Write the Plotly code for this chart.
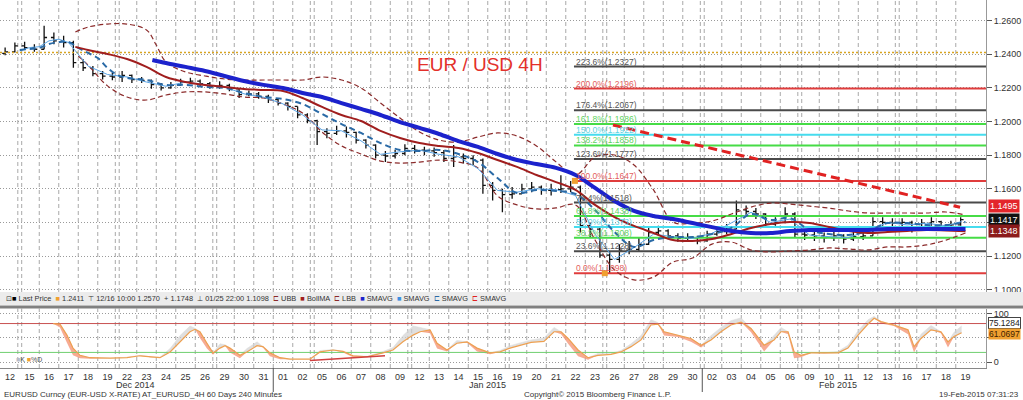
import numpy as np
import plotly.graph_objects as go

# ---------------- calendar / axis labels ----------------
day_labels = ["12", "15", "16", "17", "18", "19", "22", "23", "24", "25", "26", "29", "30", "31",
              "01", "02", "05", "06", "07", "08", "09", "12", "13", "14", "15", "16", "19", "20",
              "21", "22", "23", "26", "27", "28", "29", "30", "02", "03", "04", "05", "06", "09",
              "10", "11", "12", "13", "16", "17", "18", "19"]
month_labels = ["Dec 2014", "Jan 2015", "Feb 2015"]
month_label_pos = [6.46, 24.5, 42.46]
month_break_pos = [13.5, 35.5]
weekend_break_pos = [0.5, 5.5, 10.5, 15.5, 20.5, 25.5, 30.5, 35.5, 40.5, 45.5]
price_ticks = [1.10, 1.12, 1.14, 1.16, 1.18, 1.20, 1.22, 1.24, 1.26]
price_tick_text = ["1.1000", "1.1200", "", "1.1600", "1.1800", "1.2000", "1.2200", "1.2400", "1.2600"]
osc_ticks = [0, 50, 100]
osc_tick_text = ["0", "", "100"]

# ---------------- EURUSD bars (half-day) ----------------
open_px = [1.2405, 1.2415, 1.2450, 1.2440, 1.2430, 1.2500, 1.2480, 1.2470, 1.2350, 1.2320,
           1.2285, 1.2270, 1.2265, 1.2275, 1.2250, 1.2245, 1.2220, 1.2200, 1.2215, 1.2235,
           1.2240, 1.2225, 1.2210, 1.2215, 1.2195, 1.2160, 1.2165, 1.2150, 1.2130, 1.2110,
           1.2090, 1.2040, 1.2005, 1.1940, 1.1930, 1.1945, 1.1935, 1.1890, 1.1860, 1.1800,
           1.1795, 1.1810, 1.1840, 1.1830, 1.1825, 1.1815, 1.1780, 1.1790, 1.1780, 1.1770,
           1.1620, 1.1590, 1.1565, 1.1570, 1.1600, 1.1610, 1.1590, 1.1595, 1.1600, 1.1610,
           1.1380, 1.1360, 1.1205, 1.1180, 1.1235, 1.1240, 1.1270, 1.1340, 1.1350, 1.1320,
           1.1305, 1.1310, 1.1290, 1.1330, 1.1345, 1.1360, 1.1475, 1.1465, 1.1450, 1.1390,
           1.1400, 1.1450, 1.1330, 1.1325, 1.1320, 1.1310, 1.1320, 1.1300, 1.1315, 1.1320,
           1.1405, 1.1400, 1.1395, 1.1400, 1.1360, 1.1395, 1.1405, 1.1375, 1.1385]
close_px = [1.2415, 1.2450, 1.2440, 1.2430, 1.2500, 1.2480, 1.2470, 1.2350, 1.2320, 1.2285,
            1.2270, 1.2265, 1.2275, 1.2250, 1.2245, 1.2220, 1.2200, 1.2215, 1.2235, 1.2240,
            1.2225, 1.2210, 1.2215, 1.2195, 1.2160, 1.2165, 1.2150, 1.2130, 1.2110, 1.2090,
            1.2040, 1.2005, 1.1940, 1.1930, 1.1945, 1.1935, 1.1890, 1.1860, 1.1800, 1.1795,
            1.1810, 1.1840, 1.1830, 1.1825, 1.1815, 1.1780, 1.1790, 1.1780, 1.1770, 1.1620,
            1.1590, 1.1565, 1.1570, 1.1600, 1.1610, 1.1590, 1.1595, 1.1600, 1.1610, 1.1380,
            1.1360, 1.1205, 1.1180, 1.1235, 1.1240, 1.1270, 1.1340, 1.1350, 1.1320, 1.1305,
            1.1310, 1.1290, 1.1330, 1.1345, 1.1360, 1.1475, 1.1465, 1.1450, 1.1390, 1.1400,
            1.1450, 1.1330, 1.1325, 1.1320, 1.1310, 1.1320, 1.1300, 1.1315, 1.1320, 1.1405,
            1.1400, 1.1395, 1.1400, 1.1360, 1.1395, 1.1405, 1.1375, 1.1385, 1.1417]
high_px = [1.2440, 1.2470, 1.2475, 1.2460, 1.2570, 1.2530, 1.2510, 1.2480, 1.2370, 1.2330,
           1.2300, 1.2290, 1.2300, 1.2280, 1.2265, 1.2250, 1.2230, 1.2235, 1.2255, 1.2260,
           1.2250, 1.2235, 1.2240, 1.2225, 1.2200, 1.2185, 1.2175, 1.2160, 1.2135, 1.2115,
           1.2090, 1.2050, 1.2010, 1.1960, 1.1975, 1.1970, 1.1940, 1.1895, 1.1865, 1.1825,
           1.1830, 1.1865, 1.1860, 1.1850, 1.1845, 1.1830, 1.1860, 1.1810, 1.1800, 1.1780,
           1.1640, 1.1600, 1.1610, 1.1630, 1.1640, 1.1620, 1.1630, 1.1680, 1.1647, 1.1620,
           1.1400, 1.1370, 1.1230, 1.1270, 1.1290, 1.1310, 1.1370, 1.1380, 1.1360, 1.1335,
           1.1335, 1.1320, 1.1350, 1.1370, 1.1390, 1.1530, 1.1500, 1.1485, 1.1455, 1.1430,
           1.1490, 1.1460, 1.1355, 1.1345, 1.1340, 1.1350, 1.1330, 1.1345, 1.1350, 1.1430,
           1.1430, 1.1425, 1.1425, 1.1410, 1.1420, 1.1430, 1.1410, 1.1410, 1.1430]
low_px = [1.2395, 1.2410, 1.2425, 1.2415, 1.2430, 1.2460, 1.2440, 1.2320, 1.2300, 1.2270,
          1.2250, 1.2245, 1.2235, 1.2230, 1.2230, 1.2195, 1.2185, 1.2195, 1.2215, 1.2225,
          1.2210, 1.2195, 1.2195, 1.2180, 1.2140, 1.2150, 1.2135, 1.2110, 1.2095, 1.2065,
          1.2020, 1.1990, 1.1860, 1.1900, 1.1920, 1.1905, 1.1870, 1.1840, 1.1780, 1.1760,
          1.1780, 1.1800, 1.1810, 1.1800, 1.1790, 1.1760, 1.1730, 1.1750, 1.1740, 1.1570,
          1.1530, 1.1460, 1.1540, 1.1570, 1.1580, 1.1565, 1.1560, 1.1575, 1.1580, 1.1340,
          1.1310, 1.1190, 1.1098, 1.1160, 1.1210, 1.1230, 1.1265, 1.1320, 1.1300, 1.1285,
          1.1285, 1.1270, 1.1285, 1.1320, 1.1330, 1.1360, 1.1440, 1.1420, 1.1370, 1.1380,
          1.1395, 1.1310, 1.1295, 1.1290, 1.1280, 1.1290, 1.1275, 1.1290, 1.1295, 1.1320,
          1.1380, 1.1370, 1.1375, 1.1340, 1.1355, 1.1380, 1.1350, 1.1360, 1.1380]

# ---------------- indicators (read at day positions) ----------------
sma_thick_x = [7.3, 8, 9, 10, 11, 12, 13, 14, 15, 16, 17, 18, 19, 20, 21, 22, 23, 24, 25, 26, 27,
               28, 29, 30, 31, 32, 33, 34, 35, 36, 37, 38, 39, 40, 41, 42, 43, 44, 45, 46, 47, 48, 49]
sma_thick_y = [1.2366, 1.2348, 1.2325, 1.2301, 1.2271, 1.2241, 1.2218, 1.2200, 1.2170, 1.2146,
               1.2110, 1.2075, 1.2039, 1.1997, 1.1962, 1.1926, 1.1884, 1.1849, 1.1807, 1.1771,
               1.1747, 1.1724, 1.1682, 1.1605, 1.1527, 1.1468, 1.1438, 1.1420, 1.1396, 1.1372,
               1.1349, 1.1337, 1.1337, 1.1349, 1.1355, 1.1355, 1.1355, 1.1355, 1.1361, 1.1361,
               1.1361, 1.1361, 1.1361]

bollma_x = [3.35, 4, 5, 6, 7, 8, 9, 10, 11, 12, 13, 14, 15, 16, 17, 18, 19, 20, 21, 22, 23, 24,
            25, 26, 27, 28, 29, 30, 31, 32, 33, 34, 35, 36, 37, 38, 39, 40, 41, 42, 43, 44, 45,
            46, 47, 48, 49]
bollma_y = [1.2444, 1.2426, 1.2402, 1.2372, 1.2325, 1.2265, 1.2235, 1.2217, 1.2206, 1.2194,
            1.2188, 1.2182, 1.2140, 1.2087, 1.2039, 1.2003, 1.1944, 1.1902, 1.1872, 1.1855,
            1.1843, 1.1813, 1.1771, 1.1730, 1.1682, 1.1640, 1.1593, 1.1504, 1.1432, 1.1379,
            1.1337, 1.1295, 1.1290, 1.1301, 1.1331, 1.1367, 1.1390, 1.1402, 1.1396, 1.1373,
            1.1349, 1.1337, 1.1343, 1.1349, 1.1355, 1.1352, 1.1348]

ubb_x = [3.35, 4, 5, 6, 7, 7.5, 8, 9, 10, 11, 12, 13, 14, 15, 16, 17, 18, 19, 20, 21, 22, 23, 24,
         25, 26, 27, 28, 29, 30, 31, 32, 33, 34, 35, 36, 37, 38, 39, 40, 41, 42, 43, 44, 45, 46,
         47, 48, 49]
ubb_y = [1.2533, 1.2562, 1.2580, 1.2580, 1.2545, 1.2455, 1.2354, 1.2295, 1.2271, 1.2253, 1.2247,
         1.2247, 1.2247, 1.2247, 1.2265, 1.2247, 1.2200, 1.2110, 1.2021, 1.1938, 1.1890, 1.1878,
         1.1908, 1.1932, 1.1914, 1.1855, 1.1760, 1.1682, 1.1789, 1.1801, 1.1741, 1.1593, 1.1402,
         1.1396, 1.1408, 1.1450, 1.1491, 1.1515, 1.1509, 1.1497, 1.1485, 1.1468, 1.1456, 1.1456,
         1.1456, 1.1456, 1.1462, 1.1444]

lbb_x = [3.5, 4, 5, 6, 7, 8, 9, 10, 11, 12, 13, 14, 15, 16, 17, 18, 19, 20, 21, 22, 23, 24, 25,
         26, 27, 28, 29, 30, 31, 32, 33, 34, 35, 36, 37, 38, 39, 40, 41, 42, 43, 44, 45, 46, 47,
         48, 49]
lbb_y = [1.2390, 1.2336, 1.2212, 1.2146, 1.2128, 1.2158, 1.2176, 1.2176, 1.2164, 1.2146, 1.2140,
         1.2104, 1.2051, 1.1938, 1.1855, 1.1807, 1.1765, 1.1753, 1.1759, 1.1771, 1.1759, 1.1724,
         1.1558, 1.1504, 1.1480, 1.1486, 1.1504, 1.1295, 1.1117, 1.1058, 1.1075, 1.1164, 1.1188,
         1.1271, 1.1283, 1.1236, 1.1224, 1.1230, 1.1236, 1.1248, 1.1242, 1.1236, 1.1254, 1.1254,
         1.1266, 1.1295, 1.1337]

sma_dash_x = [0.5, 1, 1.5, 2, 2.5, 3, 3.5, 4, 4.5, 5, 5.5, 6, 7, 8, 9, 10, 11, 12, 13, 14, 15, 16,
              17, 18, 19, 20, 21, 22, 23, 24, 25, 26, 27, 28, 29, 30, 31, 32, 33, 34, 35, 36, 37,
              38, 39, 40, 41, 42, 43, 44, 45, 46, 47, 48, 49]
sma_dash_y = [1.2426, 1.2432, 1.2438, 1.2461, 1.2473, 1.2473, 1.2438, 1.2408, 1.2378, 1.2319,
              1.2277, 1.2259, 1.2247, 1.2218, 1.2218, 1.2206, 1.2200, 1.2170, 1.2146, 1.2134,
              1.2104, 1.2045, 1.1985, 1.1932, 1.1872, 1.1831, 1.1825, 1.1831, 1.1807, 1.1759,
              1.1664, 1.1575, 1.1593, 1.1587, 1.1569, 1.1474, 1.1343, 1.1254, 1.1295, 1.1313,
              1.1313, 1.1331, 1.1367, 1.1450, 1.1414, 1.1426, 1.1355, 1.1331, 1.1325, 1.1349,
              1.1396, 1.1396, 1.1384, 1.1384, 1.1402]

sma_light_x = [0.5, 1, 1.5, 2, 2.5, 3, 3.5, 4, 5, 6, 7, 8, 9, 10, 11, 12, 13, 14, 15, 16, 17, 18,
               19, 20, 21, 22, 23, 24, 25, 26, 27, 28, 29, 30, 31, 32, 33, 34, 35, 36, 37, 38, 39,
               40, 41, 42, 43, 44, 45, 46, 47, 48, 48.8]
sma_light_y = [1.2420, 1.2440, 1.2445, 1.2480, 1.2490, 1.2470, 1.2400, 1.2330, 1.2280, 1.2265,
               1.2235, 1.2210, 1.2235, 1.2220, 1.2205, 1.2165, 1.2145, 1.2105, 1.2040, 1.1950,
               1.1945, 1.1885, 1.1805, 1.1820, 1.1830, 1.1805, 1.1790, 1.1720, 1.1590, 1.1580,
               1.1600, 1.1595, 1.1560, 1.1330, 1.1180, 1.1250, 1.1330, 1.1315, 1.1305, 1.1335,
               1.1400, 1.1460, 1.1400, 1.1420, 1.1325, 1.1315, 1.1310, 1.1350, 1.1400, 1.1385,
               1.1395, 1.1380, 1.1405]

last_price_ref = 1.2411
trend_x = [30.92, 48.72]
trend_y = [1.1979, 1.1490]
extreme_x = [28.97, 30.5]
extreme_y = [1.1647, 1.1098]

fib_start = 28.92
fib_pct = ["223.6%", "200.0%", "176.4%", "161.8%", "150.0%", "138.2%", "123.6%", "100.0%",
           "76.4%", "61.8%", "50.0%", "38.2%", "23.6%", "0.0%"]
fib_val = [1.2327, 1.2196, 1.2067, 1.1986, 1.1922, 1.1858, 1.1777, 1.1647, 1.1518, 1.1438,
           1.1373, 1.1308, 1.1228, 1.1098]
fib_kind = ["g", "r", "g", "n", "c", "n", "g", "r", "g", "n", "c", "n", "g", "r"]

right_tags = [("1.1495", 1.1495, "#e3262b"), ("1.1417", 1.1417, "#111111"), ("1.1348", 1.1348, "#8c1b1b")]

# ---------------- stochastic oscillator ----------------
osc_x = [2.21, 2.56, 2.92, 3.23, 3.59, 4.10, 5.13, 6.00, 6.67, 7.18, 7.69, 8.21, 8.72, 9.23, 9.49,
         9.74, 10.10, 10.41, 10.77, 11.03, 11.28, 11.79, 12.15, 12.67, 12.97, 13.33, 13.85, 14.36,
         15.38, 15.90, 16.56, 17.08, 17.59, 18.31, 19.13, 19.64, 20.15, 20.67, 21.03, 21.54, 21.90,
         22.41, 22.92, 23.44, 23.95, 24.62, 25.13, 25.64, 26.72, 27.38, 27.90, 28.26, 28.62, 29.13,
         29.64, 30.15, 30.82, 31.33, 31.85, 32.36, 32.87, 33.23, 33.54, 34.26, 34.92, 35.44, 35.95,
         36.46, 36.97, 37.49, 38.00, 38.67, 39.18, 39.54, 39.90, 40.21, 40.56, 41.08, 41.74, 42.46,
         42.97, 43.49, 44.00, 44.31, 44.67, 45.33, 46.05, 46.36, 46.72, 47.23, 47.74, 48.10, 48.41,
         48.80]
stoch_d = [80, 79, 56, 29, 14, 9, 8, 9, 13, 11, 9, 21, 42, 63, 68, 63, 39, 19, 29, 34,
           29, 14, 21, 34, 32, 19, 9, 6, 6, 21, 25, 22, 13, 11, 19, 25, 42, 56, 63, 67,
           39, 25, 39, 42, 29, 19, 21, 29, 41, 43, 63, 63, 49, 25, 9, 14, 16, 21, 32, 46,
           77, 79, 63, 56, 49, 35, 46, 63, 77, 83, 70, 35, 46, 63, 63, 21, 14, 19, 19, 19,
           29, 56, 79, 91, 84, 77, 67, 32, 49, 67, 63, 42, 53, 61.07]
stoch_k = [80, 72, 40, 14, 8, 7, 8, 10, 14, 10, 10, 28, 55, 75, 70, 50, 28, 15, 38, 36,
           20, 8, 28, 42, 30, 12, 6, 6, 6, 24, 26, 20, 10, 12, 22, 30, 55, 75, 72, 60,
           28, 22, 45, 40, 22, 16, 24, 34, 46, 50, 72, 58, 38, 12, 5, 18, 18, 24, 38, 55,
           88, 82, 55, 52, 42, 30, 55, 72, 86, 92, 62, 22, 55, 72, 58, 8, 10, 20, 18, 22,
           35, 65, 88, 95, 80, 75, 58, 20, 58, 76, 60, 30, 62, 75.13]
osc_upper, osc_lower = 80, 20
osc_trend_x = [15.38, 19.23]
osc_trend_y = [3, 13]

# ---------------- geometry ----------------
X_MIN, X_MAX = -0.513, 50.05
Y_MIN, Y_MAX = 1.0986, 1.2723
O_MIN, O_MAX = -12.4, 111.3
PW, PH = 986.0, 368.0          # plot area in pixels
FONT = "Liberation Sans"


def px_x(px):
    return px / PW


def px_y(py):
    return (PH - py) / PH


fib_line_col = {"g": "#4a4a4a", "r": "#e03c3c", "n": "#46dc46", "c": "#46dcee"}
fib_text_col = {"g": "#555555", "r": "#e36060", "n": "#5fd35f", "c": "#5fd2e2"}

fig = go.Figure()

# fib levels
for pct, val, kind in zip(fib_pct, fib_val, fib_kind):
    fig.add_trace(go.Scatter(x=[fib_start, X_MAX], y=[val, val], mode="lines",
                             line=dict(color=fib_line_col[kind], width=2), hoverinfo="skip"))

fig.add_trace(go.Scatter(x=[X_MIN, X_MAX], y=[last_price_ref, last_price_ref], mode="lines",
                         line=dict(color="#d9a520", width=1.5, dash="2px,2px"), hoverinfo="skip"))

fig.add_trace(go.Scatter(x=ubb_x, y=ubb_y, mode="lines", line_shape="spline",
                         line=dict(color="#8b2a2a", width=1.2, dash="5px,3px"), hoverinfo="skip"))
fig.add_trace(go.Scatter(x=lbb_x, y=lbb_y, mode="lines", line_shape="spline",
                         line=dict(color="#8b2a2a", width=1.2, dash="5px,3px"), hoverinfo="skip"))
fig.add_trace(go.Scatter(x=sma_light_x, y=sma_light_y, mode="lines",
                         line=dict(color="#5aa5e6", width=1), hoverinfo="skip"))

fig.add_trace(go.Ohlc(x=[k * 0.5 - 0.25 for k in range(len(close_px))],
                      open=open_px, high=high_px, low=low_px, close=close_px,
                      increasing_line_color="#111111", decreasing_line_color="#111111",
                      line_width=1.3, tickwidth=0.3, hoverinfo="skip"))

fig.add_trace(go.Scatter(x=sma_dash_x, y=sma_dash_y, mode="lines", line_shape="spline",
                         line=dict(color="#2a6aa6", width=2, dash="6px,4px"), hoverinfo="skip"))
fig.add_trace(go.Scatter(x=bollma_x, y=bollma_y, mode="lines", line_shape="spline",
                         line=dict(color="#a01e1e", width=2), hoverinfo="skip"))
fig.add_trace(go.Scatter(x=sma_thick_x, y=sma_thick_y, mode="lines", line_shape="spline",
                         line=dict(color="#1c22cc", width=4), hoverinfo="skip"))
fig.add_trace(go.Scatter(x=trend_x, y=trend_y, mode="lines",
                         line=dict(color="#e02222", width=3, dash="9px,5px"), hoverinfo="skip"))
fig.add_trace(go.Scatter(x=extreme_x, y=extreme_y, mode="markers",
                         marker=dict(color="#f0a030", size=6, symbol="square"), hoverinfo="skip"))

# oscillator
K = np.array(stoch_k, dtype=float)
D = np.array(stoch_d, dtype=float)
osc_kw = dict(xaxis="x2", yaxis="y2", mode="lines", hoverinfo="skip")
fig.add_trace(go.Scatter(x=osc_x, y=D, line=dict(width=0), **osc_kw))
fig.add_trace(go.Scatter(x=osc_x, y=np.maximum(K, D), fill="tonexty", fillcolor="rgba(210,210,210,0.7)",
                         line=dict(width=0.5, color="#dcdcdc"), **osc_kw))
fig.add_trace(go.Scatter(x=osc_x, y=D, line=dict(width=0), **osc_kw))
fig.add_trace(go.Scatter(x=osc_x, y=np.minimum(K, D), fill="tonexty", fillcolor="rgba(245,150,120,0.8)",
                         line=dict(width=0), **osc_kw))
fig.add_trace(go.Scatter(x=[X_MIN, X_MAX], y=[osc_upper, osc_upper], line=dict(color="#c85050", width=1), **osc_kw))
fig.add_trace(go.Scatter(x=[X_MIN, X_MAX], y=[osc_lower, osc_lower], line=dict(color="#6fcf6f", width=1), **osc_kw))
fig.add_trace(go.Scatter(x=osc_x, y=D, line=dict(color="#eea050", width=1.2), **osc_kw))
fig.add_trace(go.Scatter(x=osc_trend_x, y=osc_trend_y, line=dict(color="#d04040", width=1.5), **osc_kw))

# ---------------- shapes ----------------
shapes = []
breaks = []
for i in range(len(day_labels) - 1):
    b = i + 0.5
    if b in weekend_break_pos:
        breaks += [b - 0.1, b + 0.1]
    else:
        breaks.append(b)
for ref in ["y domain", "y2 domain"]:
    for b in breaks:
        shapes.append(dict(type="line", xref="x", yref=ref, x0=b, x1=b, y0=0, y1=1,
                           line=dict(color="#a8a8a8", width=1, dash="4px,3px"), layer="below"))
# legend strip and separator
shapes.append(dict(type="rect", xref="paper", yref="paper", x0=0, x1=1023 / PW,
                   y0=px_y(305), y1=px_y(292), fillcolor="#ececec", line=dict(width=0), layer="above"))
shapes.append(dict(type="rect", xref="paper", yref="paper", x0=0, x1=1023 / PW,
                   y0=px_y(308.5), y1=px_y(305.5), fillcolor="#808080", line=dict(width=0), layer="above"))
for b in month_break_pos:
    shapes.append(dict(type="line", xref="x", yref="paper", x0=b, x1=b, y0=px_y(368), y1=px_y(392),
                       line=dict(color="#555555", width=1)))

# ---------------- annotations ----------------
ann = []
ann.append(dict(text="EUR / USD 4H", x=px_x(480), y=px_y(52), xref="paper", yref="paper",
                showarrow=False, font=dict(family=FONT, size=19, color="#e3302a")))
for pct, val, kind in zip(fib_pct, fib_val, fib_kind):
    ann.append(dict(text=f"{pct}({val:.4f})", x=fib_start, y=val, xref="x", yref="y",
                    xanchor="left", yanchor="middle", yshift=5, showarrow=False,
                    font=dict(family=FONT, size=8.5, color=fib_text_col[kind])))
for txt, val, col in right_tags:
    ann.append(dict(text=txt, x=1.002, y=val, xref="paper", yref="y", xanchor="left",
                    yanchor="middle", showarrow=False, bgcolor=col, borderpad=1,
                    font=dict(family=FONT, size=9, color="white")))
ann.append(dict(text="75.1284", x=1.002, y=stoch_k[-1], yshift=3, xref="paper", yref="y2",
                xanchor="left", yanchor="middle", showarrow=False, bgcolor="white",
                bordercolor="#444", borderwidth=1, borderpad=0,
                font=dict(family=FONT, size=8.5, color="#222")))
ann.append(dict(text="61.0697", x=1.002, y=stoch_d[-1], yshift=-1, xref="paper", yref="y2",
                xanchor="left", yanchor="middle", showarrow=False, bgcolor="#f0a030", borderpad=0,
                font=dict(family=FONT, size=8.5, color="#402000")))

legend_txt = ('⊡<span style="color:#000">■</span> Last Price  <span style="color:#f0a030">■</span> 1.2411  '
              '⊤ 12/16 10:00 1.2570  + 1.1748  ⊥ 01/25 22:00 1.1098  '
              '<span style="color:#8b2a2a">⊏</span> UBB  <span style="color:#a01e1e">■</span> BollMA  '
              '<span style="color:#8b2a2a">⊏</span> LBB  <span style="color:#1c22cc">■</span> SMAVG  '
              '<span style="color:#3d8fe0">■</span> SMAVG  <span style="color:#2a6aa6">⊏</span> SMAVG  '
              '<span style="color:#e02222">⊏</span> SMAVG')
ann.append(dict(text=legend_txt, x=px_x(4), y=px_y(298.5), xref="paper", yref="paper",
                xanchor="left", yanchor="middle", showarrow=False,
                font=dict(family=FONT, size=7.4, color="#333")))
ann.append(dict(text='<span style="color:#b8bcc8">■</span>K <span style="color:#f0a030">■</span>%D',
                x=px_x(14), y=px_y(359), xref="paper", yref="paper", xanchor="left",
                yanchor="middle", showarrow=False, font=dict(family=FONT, size=7, color="#555")))
for lab, pos in zip(month_labels, month_label_pos):
    ann.append(dict(text=lab, x=pos, y=px_y(385), xref="x", yref="paper", showarrow=False,
                    yanchor="middle", font=dict(family=FONT, size=9, color="#333")))
ann.append(dict(text="EURUSD Curncy (EUR-USD X-RATE) AT_EURUSD_4H 60 Days 240 Minutes",
                x=px_x(2), y=px_y(394.5), xref="paper", yref="paper", xanchor="left",
                yanchor="middle", showarrow=False, font=dict(family=FONT, size=8, color="#333")))
ann.append(dict(text="Copyright© 2015 Bloomberg Finance L.P.", x=px_x(597), y=px_y(394.5),
                xref="paper", yref="paper", yanchor="middle", showarrow=False,
                font=dict(family=FONT, size=8, color="#333")))
ann.append(dict(text="19-Feb-2015 07:31:23", x=px_x(1021), y=px_y(394.5), xref="paper",
                yref="paper", xanchor="right", yanchor="middle", showarrow=False,
                font=dict(family=FONT, size=8, color="#333")))

fig.update_layout(
    width=1023, height=400, margin=dict(l=0, r=37, t=0, b=32),
    paper_bgcolor="white", plot_bgcolor="white", showlegend=False,
    font=dict(family=FONT, size=9, color="#333"),
    xaxis=dict(domain=[0, 1], range=[X_MIN, X_MAX], anchor="y", showticklabels=False,
               showgrid=False, zeroline=False, rangeslider=dict(visible=False), fixedrange=True),
    xaxis2=dict(domain=[0, 1], range=[X_MIN, X_MAX], anchor="y2", matches="x",
                tickmode="array", tickvals=list(range(len(day_labels))), ticktext=day_labels,
                ticks="", showgrid=False, zeroline=False, showline=True, linecolor="#888",
                tickfont=dict(family=FONT, size=9, color="#333")),
    yaxis=dict(domain=[px_y(292), 1], range=[Y_MIN, Y_MAX], side="right", anchor="x",
               tickmode="array", tickvals=price_ticks, ticktext=price_tick_text,
               ticks="outside", ticklen=5, tickcolor="#555", showline=True, linecolor="#999",
               showgrid=True, gridcolor="#9a9a9a", griddash="1px,2px", zeroline=False,
               tickfont=dict(family=FONT, size=9, color="#333")),
    yaxis2=dict(domain=[0, px_y(308.5)], range=[O_MIN, O_MAX], side="right", anchor="x2",
                tickmode="array", tickvals=osc_ticks, ticktext=osc_tick_text,
                ticks="outside", ticklen=5, tickcolor="#555", showline=True, linecolor="#999",
                showgrid=True, gridcolor="#9a9a9a", griddash="1px,2px", zeroline=False,
                tickfont=dict(family=FONT, size=9, color="#333")),
    shapes=shapes, annotations=ann,
)

fig.write_html("out.html", config={"displayModeBar": False, "staticPlot": True},
               post_script="document.body.style.margin='0px';document.body.style.overflow='hidden';")
